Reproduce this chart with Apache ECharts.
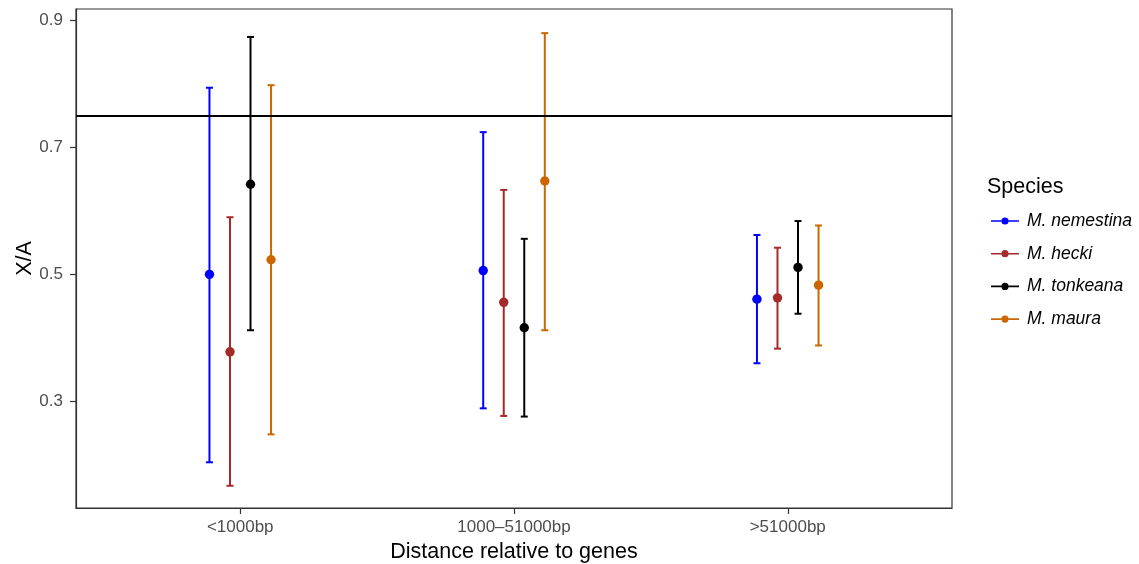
<!DOCTYPE html>
<html>
<head>
<meta charset="utf-8">
<script src="https://cdn.jsdelivr.net/npm/echarts@6/dist/echarts.min.js"></script>
<style>
  html, body { margin: 0; padding: 0; background: #fff; }
  #chart { width: 1139px; height: 564px; }
</style>
</head>
<body>
<div id="chart"></div>
<script>
// categories and species
const categories = ['<1000bp', '1000–51000bp', '>51000bp'];
const species = ['M. nemestina', 'M. hecki', 'M. tonkeana', 'M. maura'];
const colors = ['#0000FF', '#A52A2A', '#000000', '#CD6600'];

// X/A estimates with lower / upper bounds, one value per category
const meanNemestina = [0.500, 0.506, 0.461];
const lowNemestina = [0.204, 0.289, 0.360];
const highNemestina = [0.794, 0.724, 0.562];

const meanHecki = [0.378, 0.456, 0.463];
const lowHecki = [0.167, 0.277, 0.383];
const highHecki = [0.590, 0.633, 0.542];

const meanTonkeana = [0.642, 0.416, 0.511];
const lowTonkeana = [0.412, 0.276, 0.438];
const highTonkeana = [0.874, 0.556, 0.584];

const meanMaura = [0.523, 0.647, 0.483];
const lowMaura = [0.248, 0.412, 0.388];
const highMaura = [0.798, 0.880, 0.577];

// expected X/A ratio
const refLine = 0.75;
const yTicks = [0.3, 0.5, 0.7, 0.9];

const means = [meanNemestina, meanHecki, meanTonkeana, meanMaura];
const lows = [lowNemestina, lowHecki, lowTonkeana, lowMaura];
const highs = [highNemestina, highHecki, highTonkeana, highMaura];
const dodge = [-0.1125, -0.0375, 0.0375, 0.1125];

const font = 'Liberation Sans, Arial, Helvetica, sans-serif';
// line + dot key, like the ggplot legend
const legendIcon = 'path://M0,3.2L10.4,3.2L10.4,4.8L0,4.8Z M17.6,3.2L28,3.2L28,4.8L17.6,4.8Z M10.4,4A3.6,3.6 0 1,0 17.6,4A3.6,3.6 0 1,0 10.4,4Z';

const myChart = echarts.init(document.getElementById('chart'));

function errorBar(si) {
    return function (params, api) {
        const x = api.value(0) + dodge[si];
        const pm = api.coord([x, api.value(1)]);
        const pl = api.coord([x, api.value(2)]);
        const ph = api.coord([x, api.value(3)]);
        const cap = 3.5;
        const st = { stroke: colors[si], lineWidth: 2 };
        return {
            type: 'group',
            children: [
                { type: 'line', shape: { x1: pl[0], y1: pl[1], x2: ph[0], y2: ph[1] }, style: st },
                { type: 'line', shape: { x1: pl[0] - cap, y1: pl[1], x2: pl[0] + cap, y2: pl[1] }, style: st },
                { type: 'line', shape: { x1: ph[0] - cap, y1: ph[1], x2: ph[0] + cap, y2: ph[1] }, style: st },
                { type: 'circle', shape: { cx: pm[0], cy: pm[1], r: 4.7 }, style: { fill: colors[si] } }
            ]
        };
    };
}

const series = species.map((name, si) => ({
    name: name,
    type: 'custom',
    itemStyle: { color: colors[si] },
    renderItem: errorBar(si),
    encode: { x: 0, y: [1, 2, 3] },
    data: categories.map((c, ci) => [ci + 1, means[si][ci], lows[si][ci], highs[si][ci]]),
    z: 3
}));
series[0].markLine = {
    silent: true,
    symbol: 'none',
    label: { show: false },
    lineStyle: { color: '#000', width: 2, type: 'solid' },
    data: [{ yAxis: refLine }]
};

myChart.setOption({
    animation: false,
    textStyle: { fontFamily: font },
    grid: {
        left: 76, right: 187, top: 9, bottom: 56,
        outerBoundsMode: 'none',
        containLabel: false,
        show: true, borderColor: '#333', borderWidth: 1.2
    },
    legend: {
        orient: 'vertical',
        left: 986,
        top: 207,
        itemWidth: 28,
        itemHeight: 8,
        itemGap: 14.7,
        textStyle: { fontFamily: font, fontSize: 17.5, fontStyle: 'italic', color: '#000', padding: [0, 0, 0, 3] },
        data: species.map(n => ({ name: n, icon: legendIcon }))
    },
    graphic: [{
        type: 'text',
        left: 987,
        top: 176,
        style: { text: 'Species', fontFamily: font, fontSize: 21.5, fill: '#000' }
    }],
    xAxis: {
        type: 'value',
        min: 0.4,
        max: 3.6,
        name: 'Distance relative to genes',
        nameLocation: 'middle',
        nameGap: 30,
        nameTextStyle: { fontFamily: font, fontSize: 21.5, color: '#000' },
        axisLine: { show: true, lineStyle: { color: '#333', width: 1.2 } },
        axisTick: { show: true, length: 6, customValues: [1, 2, 3], lineStyle: { color: '#333', width: 1.2 } },
        axisLabel: {
            customValues: [1, 2, 3],
            margin: 11,
            fontSize: 17,
            color: '#4D4D4D',
            formatter: v => categories[Math.round(v) - 1]
        },
        splitLine: { show: false }
    },
    yAxis: {
        type: 'value',
        min: 0.132,
        max: 0.918,
        name: 'X/A',
        nameLocation: 'middle',
        nameRotate: 90,
        nameGap: 40,
        nameMoveOverlap: false,
        nameTextStyle: { fontFamily: font, fontSize: 21.5, color: '#000' },
        axisLine: { show: true, lineStyle: { color: '#333', width: 1.2 } },
        axisTick: { show: true, length: 6, customValues: yTicks, lineStyle: { color: '#333', width: 1.2 } },
        axisLabel: {
            customValues: yTicks,
            margin: 13,
            fontSize: 17,
            color: '#4D4D4D',
            formatter: v => v.toFixed(1)
        },
        splitLine: { show: false }
    },
    series: series
});
</script>
</body>
</html>
